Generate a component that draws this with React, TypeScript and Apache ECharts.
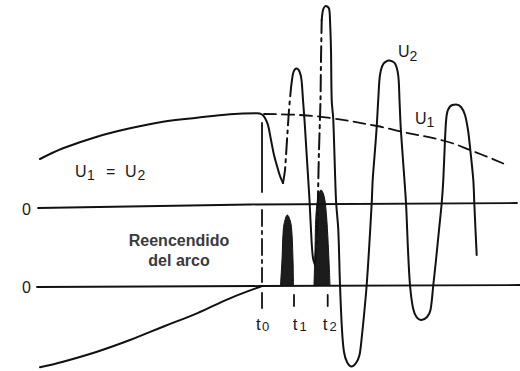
import React, { useEffect, useRef } from "react";
import * as echarts from "echarts";

// Time axis: 0..520 (arbitrary time units). Voltage axis: upper trace, 0 = upper zero line.
// Current axis: lower trace, 0 = lower zero line.
const upperZero: number[][] = [[38, -2], [250, 1.5], [517, 3]];
const lowerZero: number[][] = [[37, -1], [260, 0], [520, 1]];

// U1 = U2 before reignition, then U2 dip (solid)
const u2Start: number[][] = [
  [40, 47], [63, 57.7], [97, 69.3], [130, 77.7], [163, 84.3], [197, 88.3], [230, 91.7], [257, 92.7],
  [262, 91.5], [265, 88], [268, 81], [271, 66], [274, 51], [277, 40], [280, 30], [283, 23],
];
// dash-dot rising edge 1
const u2Rise1: number[][] = [[283, 23], [285, 36], [287, 66], [289, 96], [291, 118], [292, 126]];
// solid peak 1 and falling edge
const u2Peak1: number[][] = [
  [292, 126], [293.5, 134], [296.5, 137.5], [299.5, 134.5], [301.5, 126], [303, 106],
  [304.5, 86], [307, 46], [309.5, 6], [311.5, -34], [313, -52], [315, -59],
];
// dash-dot rising edge 2
const u2Rise2: number[][] = [[315, -59], [317, -34], [318, 11], [319, 56], [320.5, 106], [321, 146], [321.7, 186]];
// solid oscillation after peak 2
const u2Osc: number[][] = [
  [321.7, 186], [323.3, 197], [326, 200], [329, 197.5], [330, 186], [331, 156], [331.7, 106],
  [333.3, 86], [336, 6], [338.3, -24], [340, -79], [342, -124], [344, -146], [347, -156],
  [351.5, -160.5], [356, -157], [359.5, -149], [362, -129], [364.5, -104], [366.7, -79],
  [369, -44], [371.7, 3], [372.7, 26], [375, 56], [376.7, 79], [378.5, 111], [380, 131],
  [383.3, 142], [389, 145.5], [395, 142.5], [398.3, 130], [399.5, 106], [400.7, 79],
  [403, 46], [406, 3], [408, -44], [410, -79], [413, -102], [416.5, -111], [421.5, -114],
  [427, -111], [430.5, -104], [433.3, -79], [436, -54], [439, -24], [441.7, 3], [443.3, 26],
  [445, 66], [446.7, 91], [450, 99.5], [456, 101.5], [461, 99], [465, 91], [468, 76],
  [470, 59], [473.3, 26], [474.3, 3], [475.5, -24], [476.7, -49],
];
// U1 (dashed)
const u1: number[][] = [[264, 92], [300, 91], [330, 88], [377, 80], [403, 74], [445, 65], [470, 56], [507, 41]];

// time markers
const t0Solid: number[][] = [[262, 83], [262, 14]];
const t0DashDot: number[][] = [[262, -4], [262, -76]];
const t0Tick: number[][] = [[262, -87], [262, -102]];
const t1Tick: number[][] = [[294, -89], [294, -100]];
const t2Tick: number[][] = [[327.7, -89], [327.7, -100]];

// current (lower trace)
const currentBefore: number[][] = [[40, -81.3], [63, -75.7], [97, -65.7], [130, -54], [163, -40.7], [197, -27.3], [230, -12.3], [261, -0.5]];
const reignition1: number[][] = [[280.5, 1], [282, 26], [283.3, 56], [285, 66], [287.3, 71], [290, 66], [291.7, 56], [293, 26], [293.5, 1]];
const reignition2: number[][] = [[314, 1], [315, 36], [316, 71], [318, 88], [321, 96], [324, 90], [326, 76], [328, 46], [330, 1]];

const INK = "#111";
const FONT = "'Liberation Sans', Arial, Helvetica, sans-serif";
const DASHDOT = [16, 5, 3, 5];

function line(data: number[][], opts: any = {}) {
  return {
    type: "line",
    data,
    symbol: "none",
    silent: true,
    smooth: opts.smooth ?? false,
    yAxisIndex: opts.yAxisIndex ?? 0,
    z: opts.z ?? 3,
    lineStyle: { color: INK, width: opts.width ?? 2, type: opts.type ?? "solid", cap: "round" },
    areaStyle: opts.area ? { color: "#1c1c1c", opacity: 1 } : undefined,
  };
}

function txt(text: string, x: number, y: number, size: number, extra: any = {}) {
  return {
    type: "text",
    x,
    y,
    silent: true,
    style: {
      text,
      fontSize: size,
      fontFamily: FONT,
      fill: "#1a1a1a",
      textAlign: "left",
      textVerticalAlign: "middle",
      ...extra,
    },
  };
}

export default function App() {
  const ref = useRef<HTMLDivElement>(null);
  useEffect(() => {
    if (!ref.current) return;
    const chart = echarts.init(ref.current, undefined, { renderer: "svg" });
    chart.setOption({
      animation: false,
      backgroundColor: "#fff",
      grid: { left: 0, right: 0, top: 0, bottom: 0 },
      xAxis: { type: "value", min: 0, max: 520, show: false },
      yAxis: [
        { type: "value", min: -165, max: 206, show: false },
        { type: "value", min: -85, max: 286, show: false },
      ],
      series: [
        line(upperZero, { width: 1.8 }),
        line(lowerZero, { width: 1.8, yAxisIndex: 1 }),
        line(reignition1, { yAxisIndex: 1, smooth: 0.4, width: 1, area: true, z: 2 }),
        line(reignition2, { yAxisIndex: 1, smooth: 0.4, width: 1, area: true, z: 2 }),
        line(currentBefore, { yAxisIndex: 1, smooth: 0.4 }),
        line(u2Start, { smooth: 0.35 }),
        line(u2Rise1, { type: DASHDOT, smooth: 0.2 }),
        line(u2Peak1, { smooth: 0.3 }),
        line(u2Rise2, { type: DASHDOT, smooth: 0.2 }),
        line(u2Osc, { smooth: 0.3 }),
        line(u1, { type: [12, 6], smooth: 0.4, width: 1.8 }),
        line(t0Solid, { width: 1.8 }),
        line(t0DashDot, { type: DASHDOT, width: 1.8 }),
        line(t0Tick, { width: 1.8 }),
        line(t1Tick, { width: 1.8 }),
        line(t2Tick, { width: 1.8 }),
      ],
      graphic: [
        txt("0", 22, 209, 16),
        txt("0", 22, 287, 16),
        txt("U", 75, 171, 16),
        txt("1", 87, 175, 14),
        txt("=", 106, 171, 16),
        txt("U", 125, 171, 16),
        txt("2", 137.5, 175, 14),
        txt("U", 398, 51.5, 16),
        txt("2", 409.5, 56, 14),
        txt("U", 415, 118.5, 16),
        txt("1", 426.5, 122, 14),
        txt("t", 256, 324, 17),
        txt("0", 262, 326.5, 13),
        txt("t", 292.7, 324, 17),
        txt("1", 299.5, 326.5, 13),
        txt("t", 322.7, 324, 17),
        txt("2", 329.5, 326.5, 13),
        txt("Reencendido\ndel arco", 179, 250, 16, {
          textAlign: "center",
          fontWeight: "bold",
          fill: "#3a3a3a",
          lineHeight: 20,
        }),
      ],
    });
    return () => chart.dispose();
  }, []);
  return (
    <div
      ref={ref}
      style={{ position: "fixed", left: 0, top: 0, width: 520, height: 371, background: "#fff" }}
    />
  );
}
